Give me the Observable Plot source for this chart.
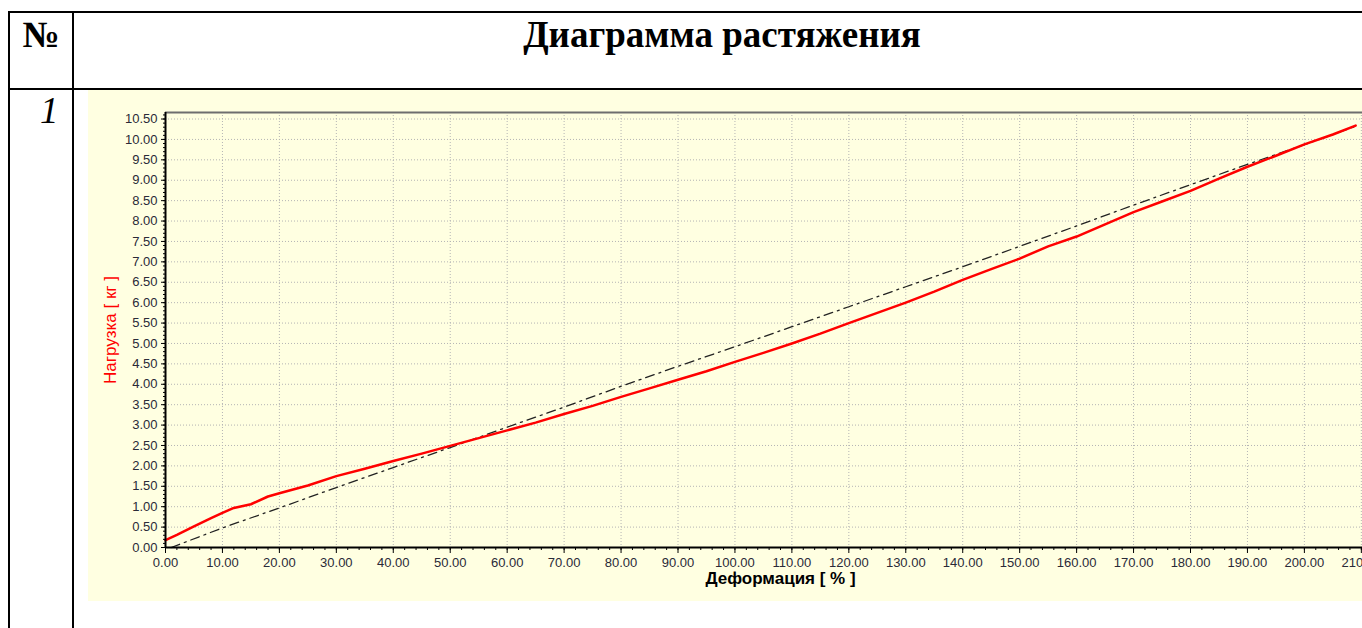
<!DOCTYPE html>
<html>
<head>
<meta charset="utf-8">
<script src="https://cdn.jsdelivr.net/npm/d3@7"></script>
<script src="https://cdn.jsdelivr.net/npm/@observablehq/plot@0.6"></script>
<style>
  html, body { margin: 0; padding: 0; background: #fff; overflow: hidden; width: 1362px; height: 628px; }
  .line { position: absolute; background: #000; }
  .hdr { position: absolute; font-family: "Liberation Serif", "Times New Roman", serif; font-size: 37px; line-height: 37px; color: #000; white-space: nowrap; }
  #chart { position: absolute; left: 88px; top: 90px; width: 1317px; }
  #chart svg { max-width: none !important; width: 1317px !important; height: 511px !important; }
</style>
</head>
<body>
<div class="line" style="left:8px; top:11px; width:1400px; height:2px;"></div>
<div class="line" style="left:8px; top:11px; width:2px; height:640px;"></div>
<div class="line" style="left:72px; top:11px; width:2px; height:640px;"></div>
<div class="line" style="left:8px; top:88px; width:1400px; height:2px;"></div>
<div class="hdr" style="left:10px; width:62px; top:16px; text-align:center; font-weight:bold;">№</div>
<div class="hdr" style="left:74px; width:1296px; top:16px; text-align:center; font-weight:bold;">Диаграмма растяжения</div>
<div class="hdr" style="left:40px; top:92px; font-style:italic;">1</div>
<div id="chart"></div>
<script>
// Deformation [%] and load [kg]
const redX = [0, 2, 5, 8, 10, 12, 15, 18, 20, 25, 30, 35, 40, 45, 50, 55, 60, 65, 70, 75, 80, 85, 90, 95, 100, 105, 110, 115, 120, 125, 130, 135, 140, 145, 150, 155, 160, 165, 170, 175, 180, 185, 190, 195, 200, 205, 209];
const redY = [0.18, 0.31, 0.52, 0.72, 0.85, 0.97, 1.06, 1.25, 1.33, 1.52, 1.75, 1.93, 2.12, 2.30, 2.49, 2.68, 2.87, 3.06, 3.27, 3.47, 3.69, 3.90, 4.11, 4.32, 4.55, 4.77, 5.00, 5.24, 5.50, 5.75, 6.00, 6.27, 6.56, 6.82, 7.08, 7.38, 7.62, 7.92, 8.22, 8.48, 8.74, 9.04, 9.33, 9.60, 9.88, 10.12, 10.34];
const blackX = [1, 10, 20, 30, 40, 50, 60, 70, 80, 90, 100, 110, 120, 130, 140, 150, 160, 170, 180, 190, 200, 209];
const blackY = [0.00, 0.48, 0.97, 1.47, 1.96, 2.45, 2.95, 3.44, 3.95, 4.44, 4.92, 5.41, 5.90, 6.39, 6.88, 7.38, 7.88, 8.39, 8.89, 9.39, 9.87, 10.32];
const xTicks = d3.range(0, 211, 10);
const yTicks = d3.range(0, 10.51, 0.5);
const xMinor = d3.range(0, 215, 2);
const yMinor = d3.range(0, 10.65, 0.1);
const xTitle = "Деформация [ % ]";
const yTitle = "Нагрузка [ кг ]";

const red = redX.map((x, i) => ({x, y: redY[i]}));
const black = blackX.map((x, i) => ({x, y: blackY[i]}));
const yTop = 10.66;

const chart = Plot.plot({
  width: 1317,
  height: 511,
  marginLeft: 77,
  marginRight: 10,
  marginTop: 22,
  marginBottom: 54,
  x: {domain: [0, 216]},
  y: {domain: [0, yTop]},
  style: {background: "#FFFFE1", fontFamily: "'Liberation Sans', Arial, sans-serif", fontSize: "13px", overflow: "visible"},
  marks: [
    Plot.gridX(xTicks.slice(1), {stroke: "#b4b4b4", strokeOpacity: 1, strokeDasharray: "1,2"}),
    Plot.gridY(yTicks.slice(1), {stroke: "#b4b4b4", strokeOpacity: 1, strokeDasharray: "1,2"}),
    Plot.ruleY([yTop], {stroke: "#6e6e6e", strokeWidth: 2}),
    Plot.line(black, {x: "x", y: "y", stroke: "#222", strokeWidth: 1.3, strokeDasharray: "9,5,2,5"}),
    Plot.line(red, {x: "x", y: "y", stroke: "#ff0000", strokeWidth: 2.5}),
    Plot.axisX(xMinor, {tickSize: 3, tickFormat: () => "", label: null, stroke: "#000"}),
    Plot.axisY(yMinor, {tickSize: 2, tickFormat: () => "", label: null, stroke: "#000"}),
    Plot.axisX(xTicks, {tickSize: 6, tickPadding: 4, fontSize: 13, tickFormat: d => d.toFixed(2), label: null, stroke: "#000", fill: "#2a2a38"}),
    Plot.axisY(yTicks, {tickSize: 4, tickPadding: 4, fontSize: 13, tickFormat: d => d.toFixed(2), label: null, stroke: "#000", fill: "#2a2a38"}),
    Plot.ruleX([0], {stroke: "#000", strokeWidth: 2}),
    Plot.ruleY([0], {stroke: "#000", strokeWidth: 2}),
    Plot.text([xTitle], {frameAnchor: "bottom", dy: 36, fontWeight: "bold", fontSize: 17, fill: "#000"}),
    Plot.text([yTitle], {frameAnchor: "left", dx: -55, rotate: -90, textAnchor: "middle", fontSize: 17, fill: "#ff0000"})
  ]
});
document.getElementById("chart").appendChild(chart);
</script>
</body>
</html>
